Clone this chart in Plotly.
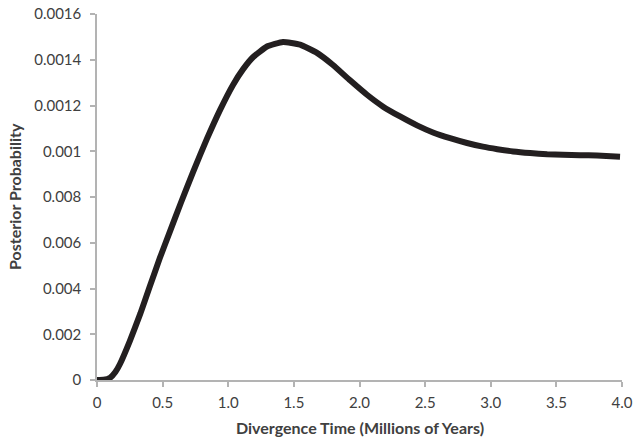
import plotly.graph_objects as go

# Divergence time (millions of years) and posterior probability
time_myr = [0.0, 0.05, 0.10, 0.14, 0.175, 0.25, 0.33, 0.40, 0.48, 0.556, 0.64, 0.731, 0.838,
            0.937, 1.036, 1.112, 1.19, 1.295, 1.417, 1.547, 1.676, 1.798, 1.928,
            2.057, 2.18, 2.309, 2.438, 2.56, 2.69, 2.819, 2.94, 3.05, 3.17, 3.30,
            3.43, 3.55, 3.68, 3.81, 3.985]
posterior = [0.0, 0.000001, 0.000010, 0.000035, 0.000070, 0.000170, 0.000290, 0.000405, 0.000535,
             0.000650, 0.000776, 0.000908, 0.001055, 0.001180, 0.001290, 0.001358,
             0.001412, 0.001458, 0.001478, 0.001466, 0.00143, 0.001377, 0.001310,
             0.001247, 0.001195, 0.001152, 0.001113, 0.001082, 0.001057, 0.001036,
             0.001020, 0.001009, 0.000999, 0.000992, 0.000987, 0.000985, 0.000983,
             0.000981, 0.000976]

x_tickvals = [0, 0.5, 1.0, 1.5, 2.0, 2.5, 3.0, 3.5, 4.0]
x_ticktext = ["0", "0.5", "1.0", "1.5", "2.0", "2.5", "3.0", "3.5", "4.0"]
y_tickvals = [0, 0.0002, 0.0004, 0.0006, 0.0008, 0.0010, 0.0012, 0.0014, 0.0016]
y_ticktext = ["0", "0.002", "0.004", "0.006", "0.008", "0.001", "0.0012", "0.0014", "0.0016"]

x_title = "Divergence Time (Millions of Years)"
y_title = "Posterior Probability"

fig = go.Figure()
fig.add_trace(go.Scatter(
    x=time_myr, y=posterior, mode="lines",
    line=dict(color="#231f20", width=6, shape="spline", smoothing=0.4),
    showlegend=False, cliponaxis=False,
))

axis_color = "#b3b3b3"
text_color = "#404040"
font_fam = "Lato, 'Open Sans', sans-serif"
fig.update_layout(
    width=633, height=437,
    margin=dict(l=97, r=11, t=14, b=57, autoexpand=False),
    paper_bgcolor="white", plot_bgcolor="white",
    font=dict(family=font_fam, size=15, color=text_color),
    xaxis=dict(
        range=[0, 4.0], tickvals=x_tickvals, ticktext=x_ticktext, automargin=False,
        showgrid=False, zeroline=False, showline=True, linecolor=axis_color, linewidth=1.5,
        ticks="outside", tickcolor=axis_color, ticklen=5, tickwidth=1.5,
        ticklabelstandoff=3,
    ),
    yaxis=dict(
        range=[0, 0.0016], tickvals=y_tickvals, ticktext=y_ticktext, automargin=False,
        showgrid=False, zeroline=False, showline=True, linecolor=axis_color, linewidth=1.5,
        ticks="outside", tickcolor=axis_color, ticklen=5, tickwidth=1.5,
        ticklabelstandoff=6,
    ),
    annotations=[
        dict(text="<b>" + x_title + "</b>", xref="paper", yref="paper",
             x=0.5, y=0, yshift=-36, xanchor="center", yanchor="top",
             showarrow=False, font=dict(size=16, color=text_color)),
        dict(text="<b>" + y_title + "</b>", xref="paper", yref="paper",
             x=0, xshift=-83, y=0.5, xanchor="center", yanchor="middle", textangle=-90,
             showarrow=False, font=dict(size=16, color=text_color)),
    ],
)

fig.write_html("out.html", config={"displayModeBar": False},
               post_script="document.body.style.margin='0';")
